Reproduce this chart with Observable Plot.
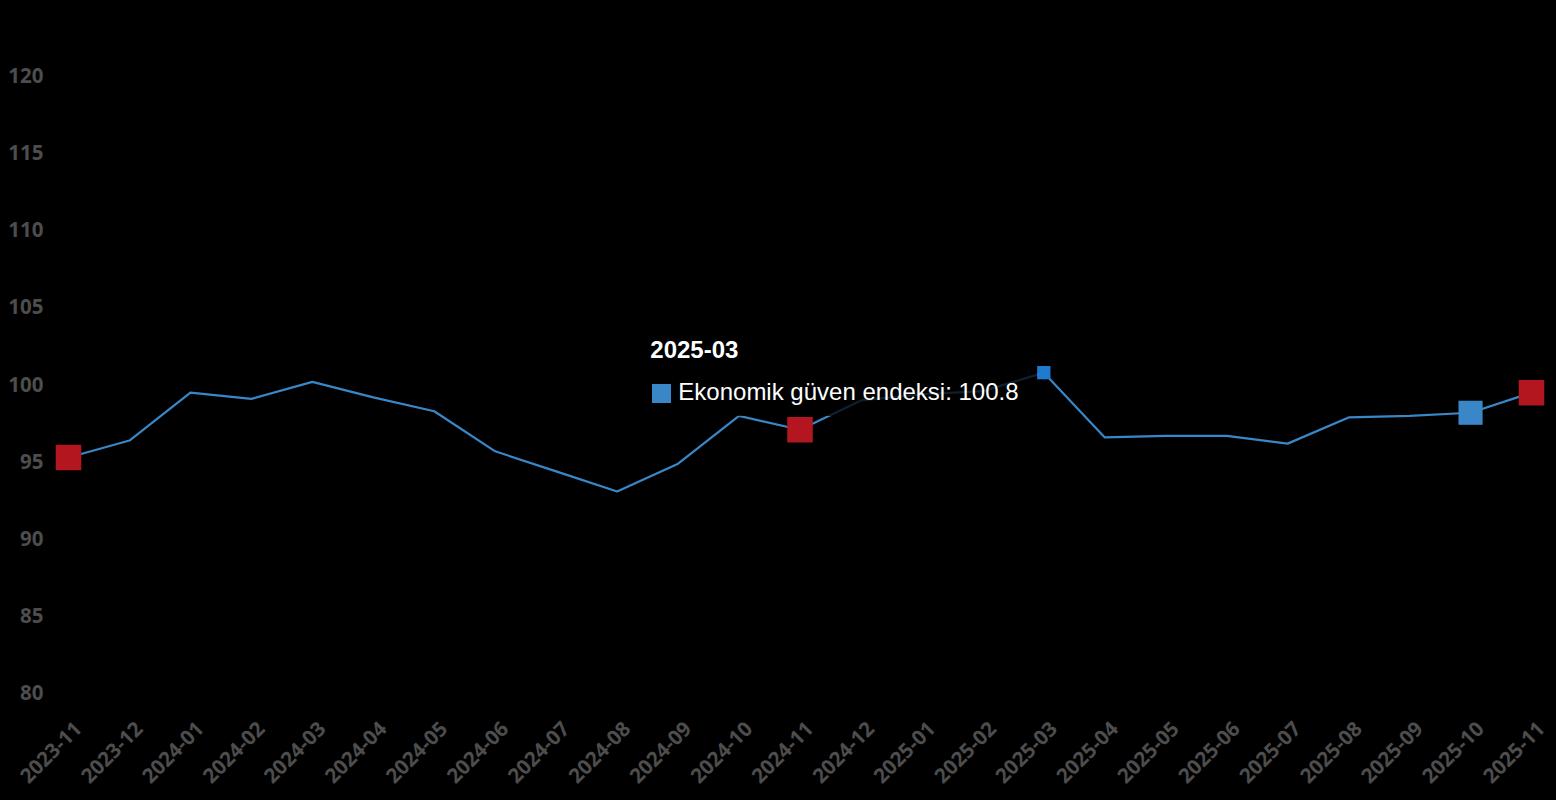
<!DOCTYPE html>
<html>
<head>
<meta charset="utf-8">
<script src="https://cdn.jsdelivr.net/npm/d3@7"></script>
<script src="https://cdn.jsdelivr.net/npm/@observablehq/plot@0.6"></script>
<style>
  html, body { margin: 0; padding: 0; background: #000; overflow: hidden; }
  #chart { position: relative; width: 1556px; height: 800px; background: #000; }
  #chart svg text.axislab { font-size: 20.5px !important; font-weight: 700 !important; font-family: "Open Sans", sans-serif !important; }
  .tip { position: absolute; background: rgba(0,0,0,0.76); font-family: "Liberation Sans", Arial, sans-serif; color: #fff; }
  .tip .t { position: absolute; left: 8px; font-weight: bold; font-size: 24px; line-height: 24px; white-space: nowrap; }
  .tip .sw { position: absolute; left: 10px; width: 19px; height: 19px; }
  .tip .v { position: absolute; left: 36px; font-size: 24px; line-height: 24px; white-space: nowrap; }
</style>
</head>
<body>
<div id="chart"></div>
<script>
// ---- data ----
const months = ["2023-11","2023-12","2024-01","2024-02","2024-03","2024-04","2024-05","2024-06","2024-07","2024-08","2024-09","2024-10","2024-11","2024-12","2025-01","2025-02","2025-03","2025-04","2025-05","2025-06","2025-07","2025-08","2025-09","2025-10","2025-11"];
const values = [95.3, 96.4, 99.5, 99.1, 100.2, 99.2, 98.3, 95.7, 94.4, 93.1, 94.9, 98.0, 97.1, 99.0, 99.4, 99.6, 100.8, 96.6, 96.7, 96.7, 96.2, 97.9, 98.0, 98.2, 99.5];
const seriesName = "Ekonomik güven endeksi";
const yTicks = [80, 85, 90, 95, 100, 105, 110, 115, 120];
const redMonths = ["2023-11", "2024-11", "2025-11"];
const blueMonths = ["2025-10"];
const hoverMonth = "2025-03";

const lineColor = "#3a87c8";
const redColor = "#b3161f";
const tickColor = "#4d4d4d";

const data = months.map((m, i) => ({i, month: m, value: values[i]}));
const redData = data.filter(d => redMonths.includes(d.month));
const blueData = data.filter(d => blueMonths.includes(d.month));
const hoverData = data.filter(d => d.month === hoverMonth);

const chart = Plot.plot({
  width: 1556,
  height: 800,
  marginTop: 76,
  marginBottom: 107,
  marginLeft: 68,
  marginRight: 25,
  style: {background: "#000", fontFamily: "'Open Sans', sans-serif"},
  x: {type: "linear", domain: [0, months.length - 1], inset: 0},
  y: {domain: [80, 120], inset: 0},
  marks: [
    Plot.axisY({ticks: yTicks, tickSize: 0, tickPadding: 25, fontSize: 20, fill: tickColor, label: null}),
    Plot.axisX({ticks: d3.range(months.length), tickFormat: i => months[i], tickRotate: -45, tickSize: 0, tickPadding: 32, dx: 10, fontSize: 20, fill: tickColor, label: null}),
    Plot.line(data, {x: "i", y: "value", stroke: lineColor, strokeWidth: 2.2}),
    Plot.dot(redData, {x: "i", y: "value", symbol: "square", r: 14.4, fill: redColor, stroke: "none"}),
    Plot.dot(blueData, {x: "i", y: "value", symbol: "square", r: 13.6, fill: lineColor, stroke: "none"}),
    Plot.dot(hoverData, {x: "i", y: "value", symbol: "square", r: 7.5, fill: "#1f7ad0", stroke: "none"})
  ]
});
const holder = document.getElementById("chart");
holder.appendChild(chart);
d3.select(chart).selectAll("g[aria-label$='tick label'] text").classed("axislab", true);

// tooltip placed from the plot's own scales
const px = chart.scale("x").apply(hoverData[0].i);
const py = chart.scale("y").apply(hoverData[0].value);
const tip = document.createElement("div");
tip.className = "tip";
tip.style.left = (px - 401) + "px";
tip.style.top = (py - 38) + "px";
tip.style.width = "395px";
tip.style.height = "82px";
tip.innerHTML = `<div class="t" style="top:4px">${hoverMonth}</div>` +
  `<div class="sw" style="top:50px;background:${lineColor}"></div>` +
  `<div class="v" style="top:46px">${seriesName}: ${hoverData[0].value.toFixed(1)}</div>`;
holder.appendChild(tip);
</script>
</body>
</html>
